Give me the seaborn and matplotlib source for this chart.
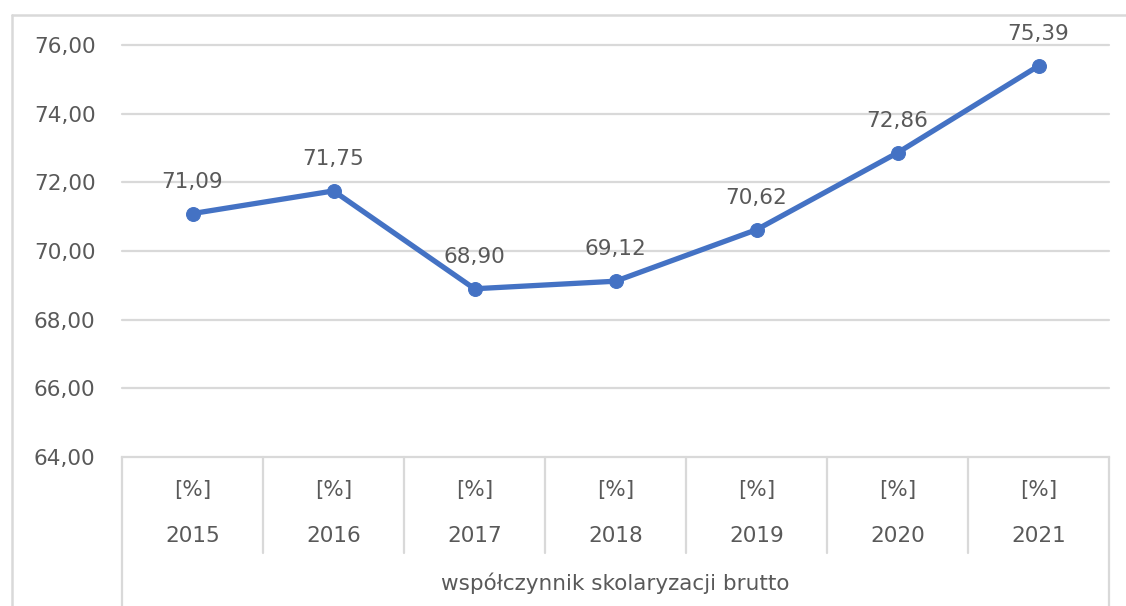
import matplotlib
matplotlib.use("Agg")
import matplotlib.pyplot as plt
from matplotlib.lines import Line2D
import seaborn as sns
import pandas as pd

years = ["2015", "2016", "2017", "2018", "2019", "2020", "2021"]
units = ["[%]"] * 7
values = [71.09, 71.75, 68.90, 69.12, 70.62, 72.86, 75.39]
group_label = "współczynnik skolaryzacji brutto"
y_ticks = [64, 66, 68, 70, 72, 74, 76]
y_tick_labels = ["64,00", "66,00", "68,00", "70,00", "72,00", "74,00", "76,00"]

sns.set_style("white")
plt.rcParams["font.family"] = ["DejaVu Sans"]

W, H = 1126, 606
fig = plt.figure(figsize=(W / 100, H / 100), dpi=100)
fig.patch.set_facecolor("white")

L, R, T, B = 122, 1109, 45, 457
ax = fig.add_axes([L / W, (H - B) / H, (R - L) / W, (B - T) / H])

GRAY = "#D9D9D9"
TXT = "#595959"
BLUE = "#4472C4"
FS = 15.5

df = pd.DataFrame({"x": range(len(years)), "value": values})
sns.lineplot(data=df, x="x", y="value", ax=ax, color=BLUE, linewidth=3.8,
             marker="o", markersize=10, markeredgecolor=BLUE, zorder=3)

ax.set_xlim(-0.5, len(years) - 0.5)
ax.set_ylim(64, 76)
ax.set_yticks(y_ticks)
ax.set_yticklabels(y_tick_labels)
ax.tick_params(axis="y", length=0, pad=19, labelsize=FS, labelcolor=TXT)
ax.set_xticks([])
ax.set_xlabel("")
ax.set_ylabel("")
for s in ["top", "right", "left"]:
    ax.spines[s].set_visible(False)
ax.spines["bottom"].set_color(GRAY)
ax.spines["bottom"].set_linewidth(1.6)
for yv in y_ticks[1:]:
    ax.axhline(yv, color=GRAY, linewidth=1.6, zorder=1, clip_on=False)

# data labels
for i, v in enumerate(values):
    ax.annotate(f"{v:.2f}".replace(".", ","), (i, v), xytext=(0, 23),
                textcoords="offset points", ha="center", va="center",
                fontsize=FS, color=TXT)

# multi-level category axis
tr = ax.get_xaxis_transform()
axh = B - T
def ay(py):
    return (B - py) / axh

n = len(years)
for k in range(n + 1):
    xk = k - 0.5
    ybot = ay(553) if 0 < k < n else ay(H + 5)
    ax.plot([xk, xk], [0, ybot], color=GRAY, linewidth=1.6, transform=tr,
            clip_on=False, zorder=1)
for i in range(n):
    ax.text(i, ay(490), units[i], transform=tr, ha="center", va="center",
            fontsize=FS, color=TXT)
    ax.text(i, ay(536), years[i], transform=tr, ha="center", va="center",
            fontsize=FS, color=TXT)
ax.text((n - 1) / 2, ay(583), group_label, transform=tr, ha="center",
        va="center", fontsize=FS, color=TXT)

# chart-area border (left and top visible)
bx = 12 / W
by = 1 - 15 / H
fig.add_artist(Line2D([bx, bx], [0, by], color=GRAY, linewidth=1.8,
                      transform=fig.transFigure))
fig.add_artist(Line2D([bx, 1], [by, by], color=GRAY, linewidth=1.8,
                      transform=fig.transFigure))

fig.savefig("out.png", dpi=100, facecolor="white")
